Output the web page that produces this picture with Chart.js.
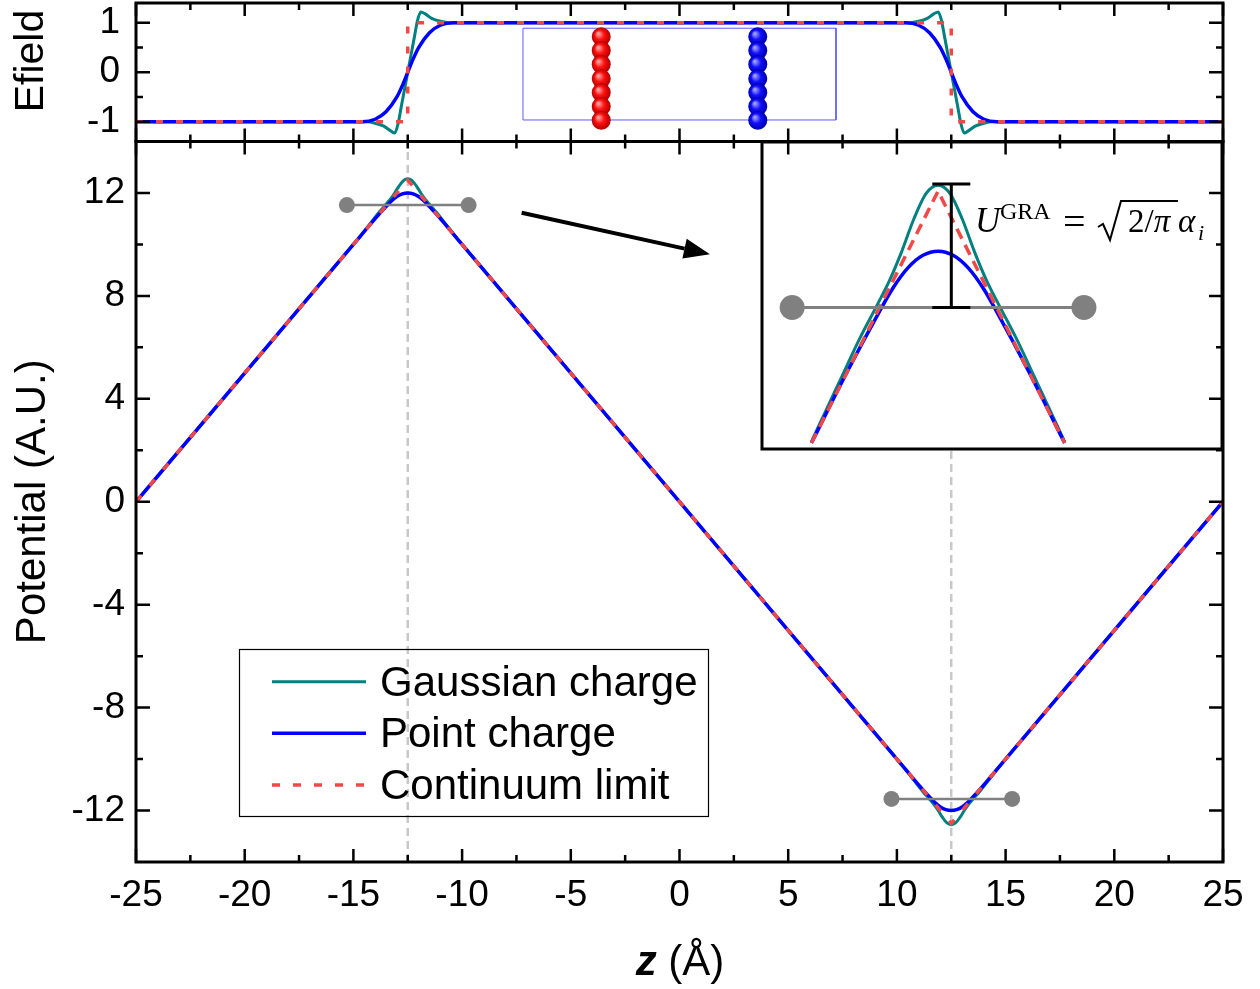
<!DOCTYPE html>
<html>
<head>
<meta charset="utf-8">
<script src="https://cdn.jsdelivr.net/npm/chart.js@4.4.0/dist/chart.umd.min.js"></script>
<style>
  body { margin: 0; background: #fff; }
  #wrap { position: relative; width: 1260px; height: 989px; }
  #wrap canvas { position: absolute; }
</style>
</head>
<body>
<div id="wrap">
  <canvas id="potential" width="1260" height="989" style="left:0;top:0"></canvas>
  <canvas id="efield" width="1260" height="150" style="left:0;top:0"></canvas>
  <canvas id="inset" width="475" height="325" style="left:755px;top:135px"></canvas>
</div>
<script>
const FONT = "'Liberation Sans', Arial, sans-serif";
const SERIF = "'Liberation Serif', 'DejaVu Serif', serif";
Chart.defaults.font.family = FONT;
Chart.defaults.color = "#000";

const TEAL = "#008080";
const BLUE = "#0000ff";
const RED = "#f04848";
const GREY = "#808080";
const GUIDE = "#c8c8c8";

// ---- axes ----
const zRange = [-25, 25];
const potRange = [-14, 14];
const efRange = [-1.4, 1.4];
const xMajor = [-25, -20, -15, -10, -5, 0, 5, 10, 15, 20, 25];
const xMinor = [-22.5, -17.5, -12.5, -7.5, -2.5, 2.5, 7.5, 12.5, 17.5, 22.5];
const potTicks = [-12, -8, -4, 0, 4, 8, 12];
const potMinor = [-10, -6, -2, 2, 6, 10];
const efTicks = [-1, 0, 1];
const efMinor = [-0.5, 0.5];

// ---- potential panel ----
const zGauss = [-25, -15, -14.6, -14.5, -14.1, -13.8, -13.5, -13.3, -13.1, -12.9, -12.7, -12.5, -12.3, -12.1, -11.9, -11.7, -11.5, -11.2, -10.9, -10.5, -10.4, -10,
  10, 10.4, 10.5, 10.9, 11.2, 11.5, 11.7, 11.9, 12.1, 12.3, 12.5, 12.7, 12.9, 13.1, 13.3, 13.5, 13.8, 14.1, 14.5, 14.6, 15, 25];
const vGauss = [0, 10.0, 10.41, 10.52, 10.95, 11.27, 11.56, 11.76, 12.0, 12.27, 12.48, 12.55, 12.48, 12.27, 12.0, 11.76, 11.56, 11.27, 10.95, 10.52, 10.41, 10.0,
  -10.0, -10.41, -10.52, -10.95, -11.27, -11.56, -11.76, -12.0, -12.27, -12.48, -12.55, -12.48, -12.27, -12.0, -11.76, -11.56, -11.27, -10.95, -10.52, -10.41, -10.0, 0];

const zPoint = [-25, -15, -14.6, -14, -13.5, -13.25, -13, -12.75, -12.5, -12.25, -12, -11.75, -11.5, -11, -10.4, -10,
  10, 10.4, 11, 11.5, 11.75, 12, 12.25, 12.5, 12.75, 13, 13.25, 13.5, 14, 14.6, 15, 25];
const vPoint = [0, 10.0, 10.4, 11.0, 11.47, 11.69, 11.86, 11.965, 12.0, 11.965, 11.86, 11.69, 11.47, 11.0, 10.4, 10.0,
  -10.0, -10.4, -11.0, -11.47, -11.69, -11.86, -11.965, -12.0, -11.965, -11.86, -11.69, -11.47, -11.0, -10.4, -10.0, 0];

const zCont = [-25, -12.5, 12.5, 25];
const vCont = [0, 12.5, -12.5, 0];

const guideZ = [-12.5, 12.5];
const dumbZ = [[-15.3, -9.7], [9.75, 15.3]];
const dumbV = [11.53, -11.55];

const arrowFrom = { x: -7.26, y: 11.23 };
const arrowTo = { x: 1.40, y: 9.62 };

// ---- Efield panel ----
const zEGauss = [-25, -14.4, -14.0, -13.6, -13.3, -13.1, -12.95, -12.8, -12.65, -12.5, -12.35, -12.2, -12.05, -11.9, -11.7, -11.4, -11.0, -10.6,
  10.6, 11.0, 11.4, 11.7, 11.9, 12.05, 12.2, 12.35, 12.5, 12.65, 12.8, 12.95, 13.1, 13.3, 13.6, 14.0, 14.4, 25];
const eGauss = [-1, -1, -1.03, -1.09, -1.18, -1.23, -1.05, -0.7, -0.35, 0, 0.35, 0.7, 1.05, 1.22, 1.18, 1.09, 1.03, 1,
  1, 1.03, 1.09, 1.18, 1.22, 1.05, 0.7, 0.35, 0, -0.35, -0.7, -1.05, -1.23, -1.18, -1.09, -1.03, -1, -1];

const zEPoint = [-25, -14.6, -14, -13.5, -13, -12.75, -12.5, -12.25, -12, -11.5, -11, -10.4,
  10.4, 11, 11.5, 12, 12.25, 12.5, 12.75, 13, 13.5, 14, 14.6, 25];
const ePoint = [-1, -1, -0.95, -0.8, -0.5, -0.27, 0, 0.27, 0.5, 0.8, 0.95, 1,
  1, 0.95, 0.8, 0.5, 0.27, 0, -0.27, -0.5, -0.8, -0.95, -1, -1];

const zECont = [-25, -12.5, -12.5, 12.5, 12.5, 25];
const eCont = [-1, -1, 1, 1, -1, -1];

// schematic: simulation box with two charged sheets
const boxZ = [-7.2, 7.2, 7.2, -7.2, -7.2];
const boxE = [0.89, 0.89, -0.965, -0.965, 0.89];
const anionZ = -3.6;
const cationZ = 3.6;
const sphereE = [0.72, 0.44, 0.16, -0.13, -0.41, -0.69, -0.97];

// ---- inset ----
const insetZRange = [-15.42, -7.79];
const insetVRange = [10.35, 12.91];
const insetCut = [-14.6, -10.4];
const insetZCont = [-14.6, -12.5, -10.4];
const insetVCont = [10.4, 12.5, 10.4];
const insetDumbZ = [-14.92, -10.08];
const insetDumbV = 11.53;
const errZ = -12.28;
const errLow = 11.53;
const errHigh = 12.56;

const legendLabels = ["Gaussian charge", "Point charge", "Continuum limit"];

// pixel layout
const plotLeft = 136, plotRight = 1223, panelSplit = 141.5, plotBottom = 862;
const insetBox = { left: 761.5, top: 141.5, right: 1223, bottom: 450.5 };
const legendBox = { x: 239.5, y: 649.5, w: 469, h: 167 };

const pts = (xs, ys) => xs.map((x, i) => ({ x, y: ys[i] }));

function curve(label, data, color, width, order, extra) {
  return Object.assign({
    label, data, showLine: true, borderColor: color, backgroundColor: color,
    borderWidth: width, pointRadius: 0, order,
  }, extra || {});
}

function dumbbell(data, r, width) {
  return {
    label: "molecule", data, showLine: true, borderColor: GREY, borderWidth: width,
    pointRadius: r, pointBackgroundColor: GREY, pointBorderWidth: 0, order: 1,
  };
}

function drawFrame(chart, yMajor, yMinor) {
  const { ctx, chartArea: a, scales: { x, y } } = chart;
  ctx.save();
  ctx.strokeStyle = "#000";
  ctx.lineWidth = 2.5;
  ctx.beginPath();
  const vt = (v, len) => {
    const p = x.getPixelForValue(v);
    ctx.moveTo(p, a.top); ctx.lineTo(p, a.top + len);
    ctx.moveTo(p, a.bottom); ctx.lineTo(p, a.bottom - len);
  };
  const ht = (v, len) => {
    const p = y.getPixelForValue(v);
    ctx.moveTo(a.left, p); ctx.lineTo(a.left + len, p);
    ctx.moveTo(a.right, p); ctx.lineTo(a.right - len, p);
  };
  xMajor.forEach(v => vt(v, 13));
  xMinor.forEach(v => vt(v, 7));
  yMajor.forEach(v => ht(v, 14));
  yMinor.forEach(v => ht(v, 7));
  ctx.stroke();
  ctx.lineWidth = 3;
  ctx.strokeRect(a.left, a.top, a.width, a.height);
  ctx.restore();
}

function sphereFill(light, base, dark) {
  return c => {
    if (c.type !== "data" || !c.parsed) return base;
    const ch = c.chart;
    const px = ch.scales.x.getPixelForValue(c.parsed.x);
    const py = ch.scales.y.getPixelForValue(c.parsed.y);
    if (!Number.isFinite(px) || !Number.isFinite(py)) return base;
    const g = ch.ctx.createRadialGradient(px - 3, py - 3, 1, px, py, 9.5);
    g.addColorStop(0, light);
    g.addColorStop(0.45, base);
    g.addColorStop(1, dark);
    return g;
  };
}

function yAxis(range, ticks, pad, title) {
  return {
    min: range[0], max: range[1],
    grid: { display: false, drawTicks: false },
    border: { display: false },
    afterBuildTicks: s => { s.ticks = ticks.map(v => ({ value: v })); },
    afterFit: s => { s.width = plotLeft; s.paddingTop = 0; s.paddingBottom = 0; },
    ticks: { font: { size: 37 }, padding: pad, color: "#000" },
    title: title || { display: false },
  };
}

// ---------- main potential chart ----------
const potentialDecor = {
  id: "potentialDecor",
  afterDatasetsDraw(chart) {
    // white backdrop for the inset
    const { ctx } = chart;
    ctx.save();
    ctx.fillStyle = "#fff";
    ctx.fillRect(insetBox.left, insetBox.top, insetBox.right - insetBox.left, insetBox.bottom - insetBox.top);
    ctx.restore();
  },
  afterDraw(chart) {
    const { ctx, scales: { x, y } } = chart;
    drawFrame(chart, potTicks, potMinor);

    // arrow towards the inset
    const x0 = x.getPixelForValue(arrowFrom.x), y0 = y.getPixelForValue(arrowFrom.y);
    const x1 = x.getPixelForValue(arrowTo.x), y1 = y.getPixelForValue(arrowTo.y);
    const ang = Math.atan2(y1 - y0, x1 - x0);
    const head = 26, half = 10;
    ctx.save();
    ctx.strokeStyle = "#000";
    ctx.fillStyle = "#000";
    ctx.lineWidth = 4;
    ctx.beginPath();
    ctx.moveTo(x0, y0);
    ctx.lineTo(x1 - head * Math.cos(ang), y1 - head * Math.sin(ang));
    ctx.stroke();
    ctx.beginPath();
    ctx.moveTo(x1, y1);
    ctx.lineTo(x1 - head * Math.cos(ang) + half * Math.sin(ang), y1 - head * Math.sin(ang) - half * Math.cos(ang));
    ctx.lineTo(x1 - head * Math.cos(ang) - half * Math.sin(ang), y1 - head * Math.sin(ang) + half * Math.cos(ang));
    ctx.closePath();
    ctx.fill();

    // legend
    ctx.lineWidth = 1.2;
    ctx.strokeRect(legendBox.x, legendBox.y, legendBox.w, legendBox.h);
    legendLabels.forEach((name, i) => {
      const ds = chart.data.datasets.find(d => d.label === name);
      const ly = legendBox.y + 32.2 + i * 51.65;
      ctx.strokeStyle = ds.borderColor;
      ctx.lineWidth = ds.borderWidth;
      ctx.setLineDash(ds.borderDash || []);
      ctx.beginPath();
      ctx.moveTo(272, ly);
      ctx.lineTo(366, ly);
      ctx.stroke();
      ctx.setLineDash([]);
      ctx.fillStyle = "#000";
      ctx.font = `42px ${FONT}`;
      ctx.textAlign = "left";
      ctx.textBaseline = "alphabetic";
      ctx.fillText(name, 380, ly + 14);
    });

    // x title: italic z, regular unit
    ctx.fillStyle = "#000";
    ctx.textBaseline = "alphabetic";
    ctx.textAlign = "left";
    ctx.font = `italic bold 42px ${FONT}`;
    const wz = ctx.measureText("z").width;
    ctx.font = `42px ${FONT}`;
    const wu = ctx.measureText(" (Å)").width;
    const sx = 680 - (wz + wu) / 2;
    ctx.font = `italic bold 42px ${FONT}`;
    ctx.fillText("z", sx, 975);
    ctx.font = `42px ${FONT}`;
    ctx.fillText(" (Å)", sx + wz, 975);
    ctx.restore();
  },
};

new Chart(document.getElementById("potential"), {
  type: "scatter",
  data: {
    datasets: [
      ...guideZ.map(z => curve("guide", [{ x: z, y: potRange[0] }, { x: z, y: potRange[1] }], GUIDE, 2.5, 9, { borderDash: [8, 5] })),
      curve("Gaussian charge", pts(zGauss, vGauss), TEAL, 3, 5, { cubicInterpolationMode: "monotone" }),
      curve("Point charge", pts(zPoint, vPoint), BLUE, 3.5, 4, { cubicInterpolationMode: "monotone" }),
      curve("Continuum limit", pts(zCont, vCont), RED, 3.5, 3, { borderDash: [8, 13] }),
      ...dumbZ.map((zz, i) => dumbbell(zz.map(z => ({ x: z, y: dumbV[i] })), 8, 2.5)),
    ],
  },
  options: {
    responsive: false,
    animation: false,
    events: [],
    layout: { autoPadding: false, padding: { top: panelSplit, right: 1260 - plotRight, bottom: 0, left: 0 } },
    plugins: { legend: { display: false }, tooltip: { enabled: false } },
    scales: {
      x: {
        type: "linear", min: zRange[0], max: zRange[1],
        grid: { display: false, drawTicks: false },
        border: { display: false },
        afterBuildTicks: s => { s.ticks = xMajor.map(v => ({ value: v })); },
        afterFit: s => { s.height = 989 - plotBottom; s.paddingLeft = 0; s.paddingRight = 0; },
        ticks: { font: { size: 37 }, padding: 12, color: "#000", maxRotation: 0 },
      },
      y: yAxis(potRange, potTicks, 11, {
        display: true, text: "Potential (A.U.)", font: { size: 42 }, padding: { top: 8 },
      }),
    },
  },
  plugins: [potentialDecor],
});

// ---------- Efield chart ----------
const efieldDecor = {
  id: "efieldDecor",
  afterDraw(chart) {
    const { ctx } = chart;
    drawFrame(chart, efTicks, efMinor);
    ctx.save();
    ctx.translate(43, 61);
    ctx.rotate(-Math.PI / 2);
    ctx.fillStyle = "#000";
    ctx.font = `41px ${FONT}`;
    ctx.textAlign = "center";
    ctx.textBaseline = "alphabetic";
    ctx.fillText("Efield", 0, 0);
    ctx.restore();
  },
};

function sheet(label, z, light, base, dark) {
  return {
    label, data: sphereE.map(e => ({ x: z, y: e })), showLine: false,
    pointRadius: 9.5, pointBorderWidth: 0,
    pointBackgroundColor: sphereFill(light, base, dark), order: 0,
  };
}

new Chart(document.getElementById("efield"), {
  type: "scatter",
  data: {
    datasets: [
      curve("box", pts(boxZ, boxE), "#5c5cff", 1, 9),
      curve("Gaussian charge", pts(zEGauss, eGauss), TEAL, 3, 5, { cubicInterpolationMode: "monotone" }),
      curve("Point charge", pts(zEPoint, ePoint), BLUE, 3.5, 4, { cubicInterpolationMode: "monotone" }),
      curve("Continuum limit", pts(zECont, eCont), RED, 3.5, 3, { borderDash: [7, 13] }),
      sheet("anion", anionZ, "#ff9a9a", "#ff1010", "#b00000"),
      sheet("cation", cationZ, "#9a9aff", "#1010ff", "#0000a8"),
    ],
  },
  options: {
    responsive: false,
    animation: false,
    events: [],
    layout: { autoPadding: false, padding: { top: 3, right: 1260 - plotRight, bottom: 150 - panelSplit, left: 0 } },
    plugins: { legend: { display: false }, tooltip: { enabled: false } },
    scales: {
      x: { type: "linear", display: false, min: zRange[0], max: zRange[1] },
      y: yAxis(efRange, efTicks, 16),
    },
  },
  plugins: [efieldDecor],
});

// ---------- inset ----------
function drawFormula(ctx, x0, y0) {
  ctx.save();
  ctx.fillStyle = "#000";
  ctx.strokeStyle = "#000";
  ctx.textAlign = "left";
  ctx.textBaseline = "alphabetic";
  ctx.font = `italic 35px ${SERIF}`;
  ctx.fillText("U", x0, y0);
  ctx.font = `24px ${SERIF}`;
  ctx.fillText("GRA", x0 + 25, y0 - 13);
  ctx.font = `40px ${SERIF}`;
  ctx.fillText("=", x0 + 88, y0 + 3);
  ctx.lineWidth = 2;
  ctx.lineJoin = "miter";
  ctx.beginPath();
  ctx.moveTo(x0 + 123, y0 - 5);
  ctx.lineTo(x0 + 128, y0 - 8);
  ctx.lineTo(x0 + 135, y0 + 8);
  ctx.lineTo(x0 + 146, y0 - 31);
  ctx.lineTo(x0 + 203, y0 - 31);
  ctx.stroke();
  ctx.font = `33px ${SERIF}`;
  ctx.fillText("2/", x0 + 153, y0);
  const w = ctx.measureText("2/").width;
  ctx.font = `italic 33px ${SERIF}`;
  ctx.fillText("π", x0 + 153 + w, y0);
  ctx.fillText("α", x0 + 203, y0);
  ctx.font = `italic 22px ${SERIF}`;
  ctx.fillText("i", x0 + 223, y0 + 8);
  ctx.restore();
}

const insetDecor = {
  id: "insetDecor",
  afterDatasetsDraw(chart) {
    const { ctx, chartArea: a, scales: { x, y } } = chart;
    const ex = x.getPixelForValue(errZ);
    const ey1 = y.getPixelForValue(errLow);
    const ey2 = y.getPixelForValue(errHigh);
    ctx.save();
    ctx.strokeStyle = "#000";
    ctx.lineWidth = 3;
    ctx.beginPath();
    ctx.moveTo(ex, ey1); ctx.lineTo(ex, ey2);
    ctx.moveTo(ex - 19, ey1); ctx.lineTo(ex + 19, ey1);
    ctx.moveTo(ex - 19, ey2); ctx.lineTo(ex + 19, ey2);
    ctx.stroke();
    drawFormula(ctx, a.left + 213, a.top + 90);
    ctx.lineWidth = 3;
    ctx.strokeRect(a.left, a.top, a.width, a.height);
    ctx.restore();
  },
};

const inInset = (xs, ys) => pts(xs, ys).filter(p => p.x >= insetCut[0] && p.x <= insetCut[1]);

new Chart(document.getElementById("inset"), {
  type: "scatter",
  data: {
    datasets: [
      curve("Gaussian charge", inInset(zGauss, vGauss), TEAL, 3, 5, { cubicInterpolationMode: "monotone" }),
      curve("Point charge", inInset(zPoint, vPoint), BLUE, 3.5, 4, { cubicInterpolationMode: "monotone" }),
      curve("Continuum limit", pts(insetZCont, insetVCont), RED, 3.5, 3, { borderDash: [11, 7] }),
      dumbbell(insetDumbZ.map(z => ({ x: z, y: insetDumbV })), 12.5, 3),
    ],
  },
  options: {
    responsive: false,
    animation: false,
    events: [],
    layout: { autoPadding: false, padding: { left: 7, top: 7, right: 8, bottom: 11 } },
    plugins: { legend: { display: false }, tooltip: { enabled: false } },
    scales: {
      x: { type: "linear", display: false, min: insetZRange[0], max: insetZRange[1] },
      y: { display: false, min: insetVRange[0], max: insetVRange[1] },
    },
  },
  plugins: [insetDecor],
});
</script>
</body>
</html>
